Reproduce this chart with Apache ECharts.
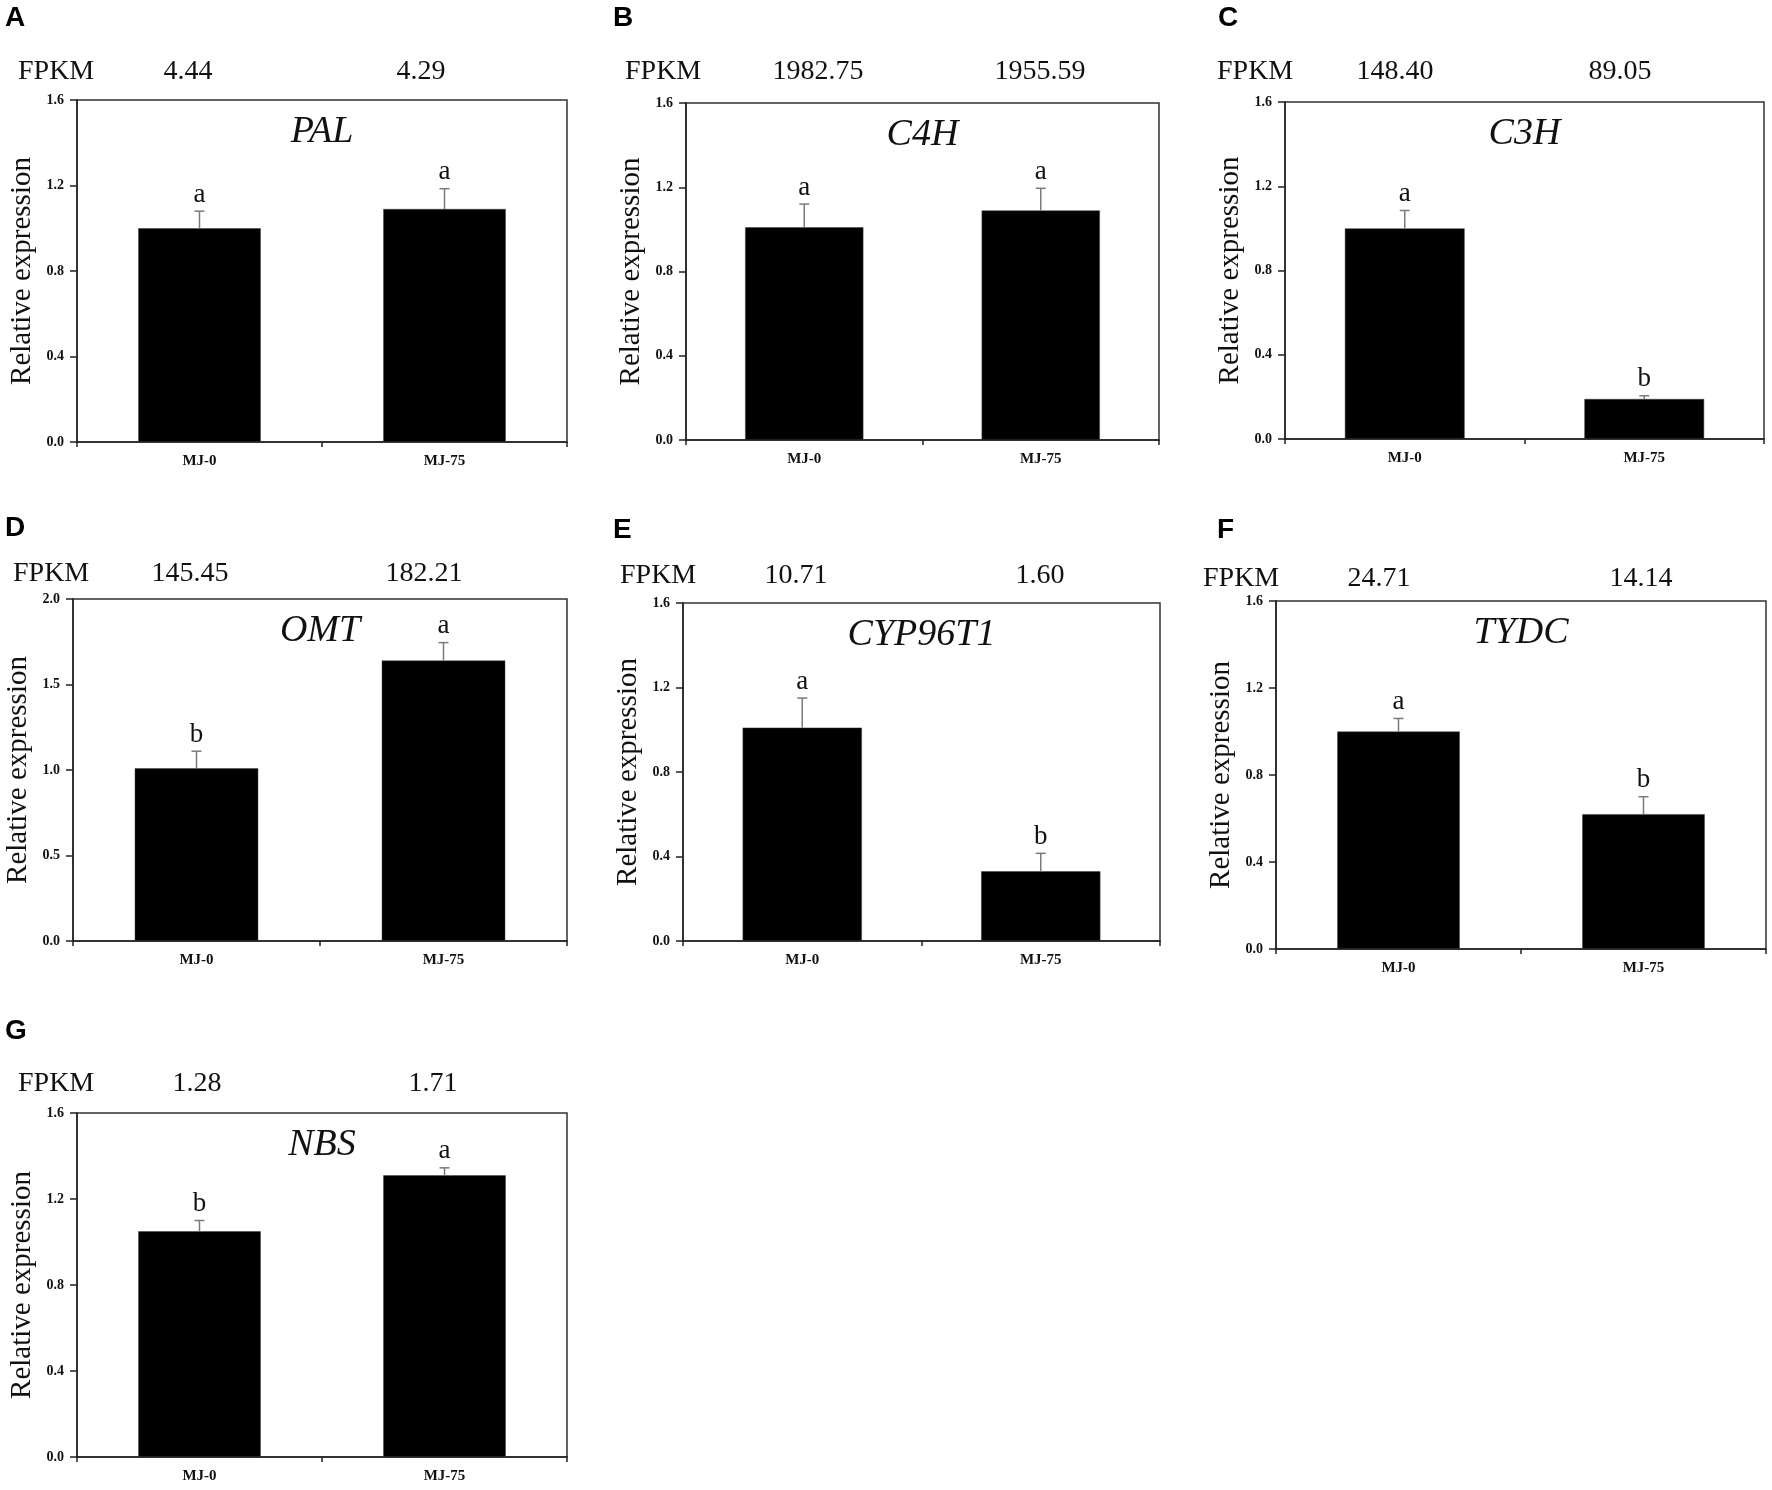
<!DOCTYPE html>
<html>
<head>
<meta charset="utf-8">
<script src="https://cdn.jsdelivr.net/npm/echarts@6/dist/echarts.min.js"></script>
<style>
html,body{margin:0;padding:0;background:#fff;}
#chart{width:1772px;height:1490px;}
</style>
</head>
<body>
<div id="chart"></div>
<script>
// ---------- DATA ----------
const panelLetters = ['A','B','C','D','E','F','G'];
const genes = ['PAL','C4H','C3H','OMT','CYP96T1','TYDC','NBS'];
const categories = ['MJ-0','MJ-75'];
const fpkmMJ0 = ['4.44','1982.75','148.40','145.45','10.71','24.71','1.28'];
const fpkmMJ75 = ['4.29','1955.59','89.05','182.21','1.60','14.14','1.71'];
const meanMJ0 = [1.00, 1.01, 1.00, 1.01, 1.01, 1.00, 1.05];
const meanMJ75 = [1.09, 1.09, 0.19, 1.64, 0.33, 0.62, 1.31];
const errMJ0 = [0.08, 0.11, 0.085, 0.10, 0.14, 0.06, 0.05];
const errMJ75 = [0.095, 0.105, 0.015, 0.105, 0.085, 0.08, 0.035];
const letterMJ0 = ['a','a','a','b','a','a','b'];
const letterMJ75 = ['a','a','b','a','b','b','a'];
const yMax = [1.6, 1.6, 1.6, 2.0, 1.6, 1.6, 1.6];
const yStep = [0.4, 0.4, 0.4, 0.5, 0.4, 0.4, 0.4];
const yName = 'Relative expression';
const fpkmLabel = 'FPKM';

// ---------- LAYOUT (pixels) ----------
const gridBox = [ // left, top, width, height
  [77, 100, 490, 342],
  [686, 103, 473, 337],
  [1285, 102, 479, 337],
  [73, 599, 494, 342],
  [683, 603, 477, 338],
  [1276, 601, 490, 348],
  [77, 1113, 490, 344]
];
const letterPos = [[5,4],[613,4],[1218,4],[5,514],[613,516],[1217,516],[5,1017]];
const fpkmBaseline = [82, 82, 82, 584, 586, 589, 1094];
const fpkmLabelX = [18, 625, 1217, 13, 620, 1203, 18];
const fpkmValX = [[188,421],[818,1040],[1395,1620],[190,424],[796,1040],[1379,1641],[197,433]];

const SERIF = '"Liberation Serif", "Times New Roman", serif';
const SANS = '"Liberation Sans", Arial, sans-serif';

const grids = [], xAxes = [], yAxes = [], series = [], graphics = [];

for (let i = 0; i < genes.length; i++) {
  const [l, t, w, h] = gridBox[i];
  grids.push({left: l, top: t, width: w, height: h, show: true,
    borderColor: '#333', borderWidth: 1.5, backgroundColor: 'transparent', containLabel: false});
  // main category axis (labels + centre ticks)
  xAxes.push({type: 'category', gridIndex: i, data: categories,
    axisLine: {lineStyle: {color: '#222', width: 1.5}},
    axisTick: {alignWithLabel: true, length: 5, lineStyle: {color: '#222', width: 1.5}},
    axisLabel: {margin: 12, fontFamily: SERIF, fontWeight: 'bold', fontSize: 15, color: '#111'},
    splitLine: {show: false}});
  // boundary ticks
  xAxes.push({type: 'category', gridIndex: i, data: categories, position: 'bottom',
    axisLine: {show: false},
    axisTick: {show: true, length: 5, lineStyle: {color: '#222', width: 1.5}},
    axisLabel: {show: false}, splitLine: {show: false}});
  yAxes.push({type: 'value', gridIndex: i, min: 0, max: yMax[i], interval: yStep[i],
    name: yName, nameLocation: 'middle', nameGap: 40,
    nameTextStyle: {fontFamily: SERIF, fontSize: 29, color: '#111'},
    axisLine: {show: true, lineStyle: {color: '#222', width: 1.5}},
    axisTick: {show: true, length: 7, lineStyle: {color: '#222', width: 1.5}},
    axisLabel: {margin: 13, fontFamily: SERIF, fontWeight: 'bold', fontSize: 14, color: '#111',
      formatter: v => v.toFixed(1)},
    splitLine: {show: false}});

  series.push({type: 'bar', xAxisIndex: 2 * i, yAxisIndex: i, barWidth: '50%',
    data: [meanMJ0[i], meanMJ75[i]],
    itemStyle: {color: '#000', borderColor: '#444', borderWidth: 0.5}, silent: true});

  const ebData = [
    [0, meanMJ0[i], errMJ0[i], letterMJ0[i]],
    [1, meanMJ75[i], errMJ75[i], letterMJ75[i]]
  ];
  series.push({type: 'custom', xAxisIndex: 2 * i, yAxisIndex: i, data: ebData, silent: true, z: 5,
    renderItem: function (params, api) {
      const x = api.value(0), v = api.value(1), e = api.value(2);
      const letter = ebData[params.dataIndex][3];
      const p0 = api.coord([x, v]);
      const p1 = api.coord([x, v + e]);
      return {type: 'group', children: [
        {type: 'line', shape: {x1: p0[0], y1: p0[1], x2: p1[0], y2: p1[1]},
          style: {stroke: '#7a7a7a', lineWidth: 1.5}},
        {type: 'line', shape: {x1: p1[0] - 5, y1: p1[1], x2: p1[0] + 5, y2: p1[1]},
          style: {stroke: '#7a7a7a', lineWidth: 1.5}},
        {type: 'text', style: {text: letter, x: p1[0], y: p1[1] - 3, align: 'center',
          verticalAlign: 'bottom', fontFamily: SERIF, fontSize: 27, fill: '#111'}}
      ]};
    }});

  // panel letter
  graphics.push({type: 'text', left: letterPos[i][0], top: letterPos[i][1],
    style: {text: panelLetters[i], fontFamily: SANS, fontWeight: 'bold', fontSize: 28, fill: '#000'}});
  // FPKM row
  graphics.push({type: 'text', x: fpkmLabelX[i], y: fpkmBaseline[i] - 10,
    style: {text: fpkmLabel, align: 'left', verticalAlign: 'middle', fontFamily: SERIF, fontSize: 28, fill: '#111'}});
  graphics.push({type: 'text', x: fpkmValX[i][0], y: fpkmBaseline[i] - 10,
    style: {text: fpkmMJ0[i], align: 'center', verticalAlign: 'middle', fontFamily: SERIF, fontSize: 28, fill: '#111'}});
  graphics.push({type: 'text', x: fpkmValX[i][1], y: fpkmBaseline[i] - 10,
    style: {text: fpkmMJ75[i], align: 'center', verticalAlign: 'middle', fontFamily: SERIF, fontSize: 28, fill: '#111'}});
  // gene name
  graphics.push({type: 'text', x: l + w / 2, y: t + 32,
    style: {text: genes[i], align: 'center', verticalAlign: 'middle', fontFamily: SERIF,
      fontStyle: 'italic', fontSize: 38, fill: '#111'}});
}

const chart = echarts.init(document.getElementById('chart'), null, {renderer: 'canvas'});
chart.setOption({
  backgroundColor: '#fff',
  animation: false,
  grid: grids,
  xAxis: xAxes,
  yAxis: yAxes,
  series: series,
  graphic: graphics
});
</script>
</body>
</html>
